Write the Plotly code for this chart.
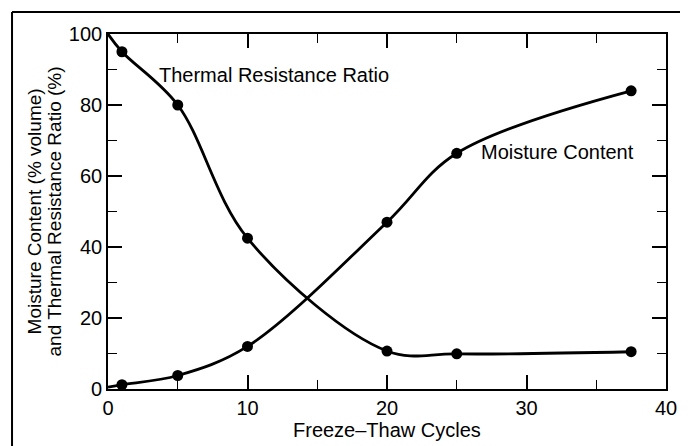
import plotly.graph_objects as go

# Freeze-thaw test: measured points
cycles = [1, 5, 10, 20, 25, 37.5]
thermal_ratio = [95, 80, 42.5, 10.7, 9.9, 10.5]
moisture = [1.2, 3.8, 12, 47, 66.4, 84]

# curves start at zero cycles
start_cycle = 0
thermal_start = 100
moisture_start = 0.5

FONT = "Liberation Sans, Arial, Helvetica, sans-serif"
INK = "black"

fig = go.Figure()
for name, start, vals in [("Thermal Resistance Ratio", thermal_start, thermal_ratio),
                          ("Moisture Content", moisture_start, moisture)]:
    fig.add_scatter(
        x=[start_cycle] + cycles, y=[start] + vals, mode="lines",
        line=dict(color=INK, width=2.8, shape="spline", smoothing=1),
        showlegend=False, hoverinfo="skip",
    )
    fig.add_scatter(
        x=cycles, y=vals, mode="markers", name=name,
        marker=dict(color=INK, size=11), showlegend=False,
    )

axis_common = dict(
    showline=True, linecolor=INK, linewidth=1.6, mirror="allticks",
    ticks="inside", ticklen=14, tickwidth=1.6, tickcolor=INK,
    showgrid=False, zeroline=False,
    tickfont=dict(family=FONT, size=20, color=INK),
)
fig.update_xaxes(range=[0, 40], dtick=10, tick0=0,
                 minor=dict(dtick=5, ticks="inside", ticklen=9, tickwidth=1.4, tickcolor=INK),
                 **axis_common)
fig.update_yaxes(range=[0, 100], dtick=20, tick0=0,
                 minor=dict(dtick=10, ticks="inside", ticklen=9, tickwidth=1.4, tickcolor=INK),
                 **axis_common)

fig.add_annotation(x=11.9, y=88.5, text="Thermal Resistance Ratio", showarrow=False,
                   font=dict(family=FONT, size=20, color=INK))
fig.add_annotation(x=32.2, y=66.8, text="Moisture Content", showarrow=False,
                   font=dict(family=FONT, size=20, color=INK))

# axis titles as annotations to pin them where the original sits
for xpos, line in [(-0.131, "Moisture Content (% volume)"),
                   (-0.095, "and Thermal Resistance Ratio (%)")]:
    fig.add_annotation(xref="paper", yref="paper", x=xpos, y=0.5, xanchor="center",
                       yanchor="middle", textangle=-90, text=line, showarrow=False,
                       font=dict(family=FONT, size=19, color=INK))
fig.add_annotation(xref="paper", yref="paper", x=0.5, y=-0.1155, yanchor="middle",
                   text="Freeze–Thaw Cycles", showarrow=False,
                   font=dict(family=FONT, size=20, color=INK))

# partial outer frame (left and top edges)
fig.add_shape(type="line", xref="paper", yref="paper", x0=-0.172, x1=-0.172, y0=-0.17, y1=1.062,
              line=dict(color=INK, width=2))
fig.add_shape(type="line", xref="paper", yref="paper", x0=-0.172, x1=1.04, y0=1.062, y1=1.062,
              line=dict(color=INK, width=2))

# page body adds an 8px margin, so the figure is 8px smaller each way
fig.update_layout(
    width=680, height=438,
    margin=dict(l=100, r=22, t=26, b=57),
    paper_bgcolor="white", plot_bgcolor="white",
    font=dict(family=FONT, color=INK),
)

fig.write_html("out.html")
